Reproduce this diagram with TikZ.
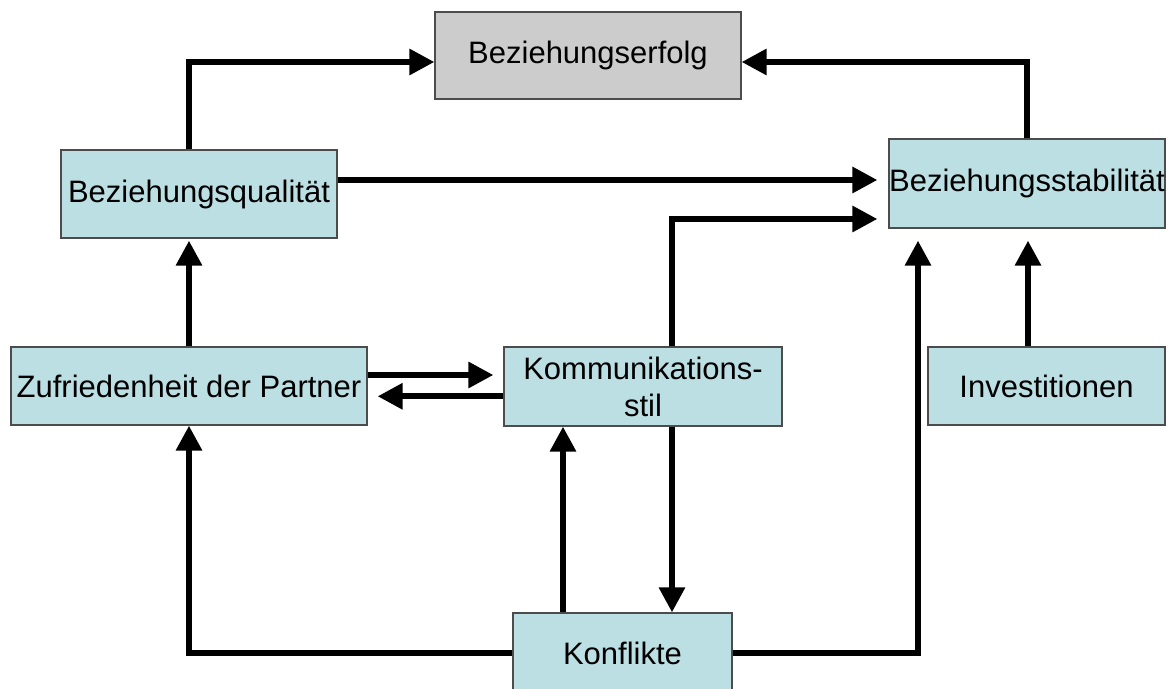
\documentclass[tikz,border=0pt]{standalone}
\usepackage{fontspec}
\setmainfont{Liberation Sans}
\usepackage{xcolor}
\usepackage{tikz}
\usetikzlibrary{arrows.meta}
\definecolor{facfill}{HTML}{BBDFE3}
\definecolor{goalfill}{HTML}{CCCCCC}

\begin{document}
\begin{tikzpicture}[x=0.5pt, y=-0.5pt,
  factor/.style={draw=black!70, line width=0.6pt, fill=facfill, inner sep=0pt,
                 align=center, font=\fontsize{15.5}{18.5}\selectfont},
  goal/.style={factor, fill=goalfill},
  arr/.style={-{Triangle[length=12.5pt, width=12.5pt]}, line width=3pt, line join=miter}
]
  \useasboundingbox (0,0) rectangle (1173,689);
  % Top row
  \node[goal,   minimum width=153pt, minimum height=43.5pt] (erfolg) at (588,55.5) {Beziehungserfolg};
  \node[factor, minimum width=138pt, minimum height=44pt]   (qual)   at (199,194)  {Beziehungsqualität};
  \node[factor, minimum width=138pt, minimum height=44.5pt] (stab)   at (1027,183.5) {Beziehungsstabilität};
  % Middle row
  \node[factor, minimum width=178pt, minimum height=39pt]   (zuf)    at (189,386)  {Zufriedenheit der Partner};
  \node[factor, minimum width=139pt, minimum height=39.5pt] (komm)   at (643,386.5) {Kommunikations-\\stil};
  \node[factor, minimum width=118.5pt, minimum height=39pt] (inv)    at (1046.5,386) {Investitionen};
  % Bottom
  \node[factor, minimum width=109.5pt, minimum height=40pt] (konf)   at (622.5,653) {Konflikte};
  % Helper points
  \coordinate (qs) at ([yshift=7pt]qual.east);
  \coordinate (zk) at ([yshift=5.5pt]zuf.east);
  \coordinate (kz) at ([yshift=-4.9pt]komm.west);
  % Flow
  \draw[arr] ([xshift=-5pt]qual.north) |- ([yshift=-3.25pt]erfolg.west);
  \draw[arr] (stab.north) |- ([yshift=-3.25pt]erfolg.east);
  \draw[arr, shorten >=5.5pt] (qs) -- (qs -| stab.west);
  \draw[arr, shorten >=5.5pt] ([xshift=14.5pt]komm.north) |- ([yshift=-17.75pt]stab.west);
  \draw[arr, shorten >=1pt] (zuf.north) -- (zuf.north |- qual.south);
  \draw[arr, shorten >=5pt] (zk) -- (zk -| komm.west);
  \draw[arr, shorten >=5pt] (kz) -- (kz -| zuf.east);
  \draw[arr, shorten >=6pt] ([xshift=-9.25pt]inv.north) -- ([xshift=-9.25pt]inv.north |- stab.south);
  \draw[arr] (konf.west) -| (zuf.south);
  \draw[arr] ([xshift=-29.75pt]konf.north) -- ([xshift=-29.75pt]konf.north |- komm.south);
  \draw[arr] ([xshift=14.5pt]komm.south) -- ([xshift=14.5pt]komm.south |- konf.north);
  \draw[arr, shorten >=6pt] (konf.east) -| ([xshift=-54.5pt]stab.south);
\end{tikzpicture}
\end{document}
